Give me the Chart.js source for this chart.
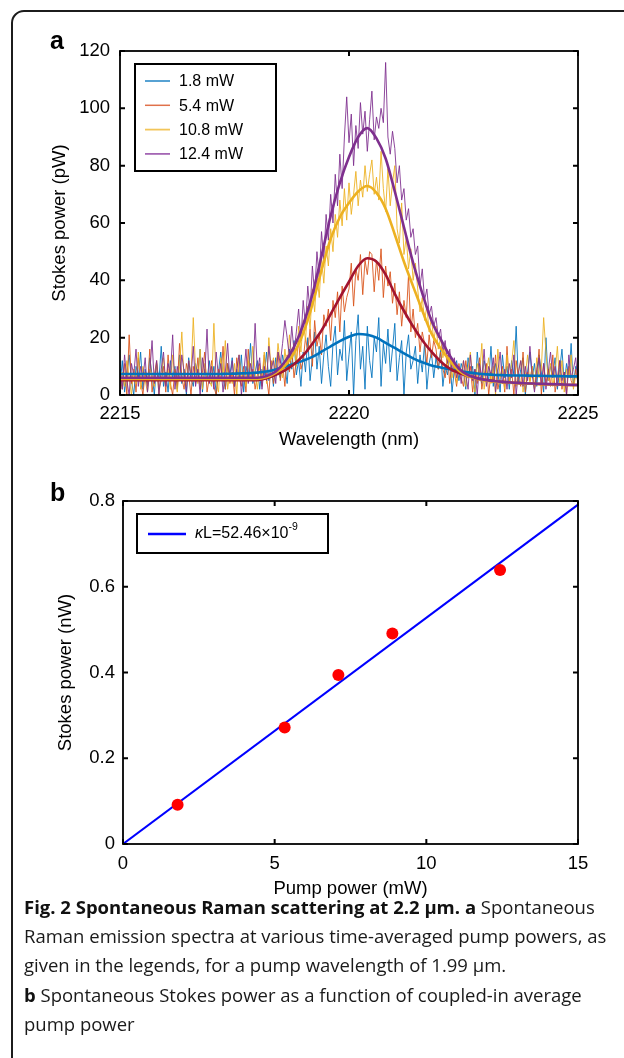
<!DOCTYPE html>
<html>
<head>
<meta charset="utf-8">
<script src="https://cdn.jsdelivr.net/npm/chart.js@4.4.1/dist/chart.umd.min.js"></script>
<style>
  html,body{margin:0;padding:0;background:#fff;}
  body{width:624px;height:1058px;overflow:hidden;position:relative;font-family:"Liberation Sans",Arial,Helvetica,sans-serif;}
  #frame{position:absolute;left:11px;top:10px;width:720px;height:1200px;border:2px solid #1c1c1c;border-radius:13px;box-sizing:border-box;}
  canvas{position:absolute;left:0;}
  #cA{top:0;}
  #cB{top:460px;}
  .plab{position:absolute;font-weight:bold;font-size:25px;line-height:1;color:#000;}
  #caption{position:absolute;left:24px;top:892px;font-family:"Open Sans",sans-serif;font-size:18.5px;line-height:29.2px;color:#1a1a1a;white-space:nowrap;}
  #caption b{font-weight:700;color:#111;}
</style>
</head>
<body>
<div id="frame"></div>
<canvas id="cA" width="624" height="460"></canvas>
<canvas id="cB" width="624" height="440"></canvas>
<div class="plab" style="left:50px;top:28px;">a</div>
<div class="plab" style="left:50px;top:480px;">b</div>
<div id="caption">
  <div><b>Fig. 2 Spontaneous Raman scattering at 2.2 μm.</b> <b>a</b> Spontaneous</div>
  <div>Raman emission spectra at various time-averaged pump powers, as</div>
  <div>given in the legends, for a pump wavelength of 1.99 μm.</div>
  <div><b>b</b> Spontaneous Stokes power as a function of coupled-in average</div>
  <div>pump power</div>
</div>
<script>
// ---------------- Panel a data ----------------
const seriesLabels = ['1.8 mW', '5.4 mW', '10.8 mW', '12.4 mW'];
const wlStart = 2215;      // raw spectra start (nm)
const wlStep = 0.05;       // raw spectra sampling (nm)
const fitStart = 2215;
const fitStep = 0.2;

const raw18 = [3,12,1,8,14,5,0,10,6,15, 2,9,4,13,7,0,11,5,17,3, 8,1,12,6,10,2,14,4,9,0, 13,6,3,11,7,16,1,9,5,12,
  4,10,0,8,15,6,2,11,7,13, 3,9,5,14,1,10,6,18,4,8, 12,2,9,7,15,5,11,3,13,8, 6,14,10,4,16,9,19,7,12,3,
  15,8,20,5,13,22,9,17,4,14, 21,10,3,18,24,7,16,12,26,5, 14,22,0,19,28,9,17,2,24,12, 6,20,15,27,3,18,11,23,8,16,
  25,5,13,19,0,15,21,9,12,17, 4,14,8,18,2,11,15,6,13,9, 16,3,10,7,14,1,9,12,5,11, 8,2,13,6,10,0,15,7,4,12,
  9,5,17,3,11,8,1,14,6,10, 2,12,7,24,4,9,13,0,8,15, 6,11,3,14,8,1,20,5,10,7, 13,2,9,16,4,11,6,18,3,10, 8];
const raw54 = [6,2,11,0,21,4,9,1,13,5, 0,8,3,16,1,7,12,2,5,10, 1,14,4,0,9,3,18,6,2,11, 7,0,10,4,13,2,8,15,1,6,
  12,3,0,9,5,17,2,11,4,8, 0,13,6,3,10,1,16,5,9,2, 7,11,3,14,6,0,12,4,9,15, 5,11,3,14,8,16,6,12,19,9,
  12,20,15,23,10,26,17,21,14,28, 24,30,19,33,27,36,22,38,29,34, 37,46,31,44,40,49,35,47,42,50, 49,36,47,40,51,34,45,38,43,32,
  39,28,36,24,33,27,42,22,30,20, 25,15,22,18,11,21,13,19,16,9, 15,9,6,14,4,12,8,3,11,6, 3,12,6,10,1,9,4,13,2,7,
  11,0,8,5,14,2,6,10,1,17, 4,9,0,12,6,3,15,1,8,5, 10,2,7,16,0,11,4,9,3,14, 1,6,12,2,8,0,10,5,3,9, 4];
const raw108 = [1,8,3,12,6,0,9,4,15,2, 10,5,1,9,7,3,11,0,8,13, 4,9,2,14,6,1,10,22,5,3, 12,7,27,9,4,16,2,11,6,5,
  3,25,5,1,13,7,19,2,8,4, 11,0,14,6,9,3,12,5,17,8, 2,10,6,15,4,20,9,13,7,18, 11,6,16,9,21,13,18,10,24,15,
  26,19,31,23,37,29,42,34,48,39, 52,45,58,50,63,55,68,59,72,61, 74,63,70,78,66,75,69,80,71,77, 82,70,76,68,85,72,64,79,66,74,
  80,58,53,67,49,55,44,51,40,46, 37,29,34,26,31,22,27,19,24,16, 20,13,17,9,14,6,11,4,10,7, 12,3,9,15,5,1,11,7,18,2,
  8,13,4,10,0,16,6,9,2,14, 5,11,19,3,8,12,1,7,14,4, 10,2,13,6,9,27,15,5,11,3, 8,17,4,12,1,9,6,14,2,7, 5];
const raw124 = [9,2,14,5,0,11,7,16,3,10, 6,13,1,8,19,4,12,0,9,15, 3,11,7,21,2,10,5,14,8,1, 12,6,17,3,9,0,13,7,23,4,
  10,2,15,6,11,1,8,18,5,12, 3,9,14,0,7,16,4,11,6,25, 8,13,2,10,5,17,9,12,4,15, 11,18,26,20,13,24,15,22,30,19,
  33,24,38,29,45,35,50,41,57,47, 63,54,70,60,77,66,84,72,90,104, 88,98,80,94,86,102,91,99,85,96, 106,89,97,93,100,95,116,90,84,92,
  86,74,80,68,72,61,65,55,58,49, 52,38,44,33,37,28,31,24,27,20, 23,15,19,11,16,8,13,6,10,4, 12,7,2,14,5,9,0,11,6,16,
  3,10,7,13,1,8,15,4,9,2, 11,6,14,0,8,12,3,10,5,17, 7,1,9,13,4,11,2,8,15,6, 10,3,12,5,8,0,14,6,9,13, 4];

const fit18 = [7.3,7.3,7.3,7.3,7.3,7.3,7.3,7.3,7.3,7.3,
  7.3,7.35,7.4,7.5,7.6,7.8,8.2,8.9,9.8,10.9,12.0,13.3,15.1,17.0,18.8,20.3,21.3,21.0,20.0,18.2,
  16.4,14.5,12.8,11.4,10.3,9.6,9.0,8.4,7.9,7.5,7.2,7.0,6.9,6.8,6.8,6.7,6.7,6.6,6.6,6.5,6.5];
const fit54 = [5.2,5.2,5.2,5.2,5.2,5.2,5.2,5.2,5.2,5.2,5.2,5.2,5.2,5.2,5.2,
  5.2,5.8,7.0,8.6,10.7,13.8,17.9,22.5,28.2,34,39.5,45,47.7,46.5,42,35.3,29.3,23.9,19.1,15.1,
  11.7,9.2,7.7,6.6,5.8,5.2,4.8,4.5,4.3,4.1,3.9,3.8,3.7,3.6,3.5,3.5];
const fit108 = [5.6,5.6,5.6,5.6,5.6,5.6,5.6,5.6,5.6,5.6,5.6,5.6,5.6,5.6,5.6,
  5.6,6.2,7.7,10.2,14.6,21.5,31.5,43.5,54.5,62,67,71,72.9,70.5,65,56,46.5,37.9,29.5,21.5,
  16.3,12.0,8.5,6.6,5.6,5.0,4.6,4.4,4.2,4.0,3.9,3.8,3.7,3.6,3.5,3.5];
const fit124 = [6.0,6.0,6.0,6.0,6.0,6.0,6.0,6.0,6.0,6.0,6.0,6.0,6.0,6.0,6.0,
  6.0,6.6,8.2,11.6,16.8,24.5,35.0,48.5,62.5,74,83,90,93.1,89.5,82.5,71,58.5,46.1,35.5,26,
  19.5,13.8,9.2,6.9,5.8,5.2,4.8,4.5,4.3,4.1,4.0,3.9,3.8,3.7,3.6,3.5];

const xTicksA = [2215, 2220, 2225];
const yTicksA = [0, 20, 40, 60, 80, 100, 120];

// ---------------- Panel b data ----------------
const pumpPower = [1.8, 5.33, 7.1, 8.88, 12.43];
const stokesPower = [0.0915, 0.2715, 0.394, 0.491, 0.639];
const fitLineX = [0, 15];
const fitLineY = [0, 0.7915];
const xTicksB = [0, 5, 10, 15];
const yTicksB = [0, 0.2, 0.4, 0.6, 0.8];

// ---------------- helpers ----------------
function toPts(start, step, vals) {
  return vals.map((v, i) => ({ x: +(start + i * step).toFixed(4), y: v }));
}
const rawColors = ['rgba(0,114,189,0.88)', 'rgba(217,83,25,0.88)', 'rgba(237,177,32,0.88)', 'rgba(126,47,142,0.88)'];
const fitColors = ['#0072BD', '#A2142F', '#EDB120', '#7E2F8E'];

const tickFont = { family: '"Liberation Sans", Arial, sans-serif', size: 18.5 };
const titleFont = { family: '"Liberation Sans", Arial, sans-serif', size: 18.5 };

// inward ticks on all four sides + box
const boxTicks = {
  id: 'boxTicks',
  afterDatasetsDraw(chart, args, opts) {
    const { ctx, chartArea: a, scales } = chart;
    const xs = scales.x, ys = scales.y;
    const L = opts.len || 5;
    ctx.save();
    ctx.strokeStyle = '#000';
    ctx.lineWidth = 2;
    ctx.beginPath();
    xs.ticks.forEach(t => {
      const p = xs.getPixelForValue(t.value);
      ctx.moveTo(p, a.bottom); ctx.lineTo(p, a.bottom - L);
      ctx.moveTo(p, a.top); ctx.lineTo(p, a.top + L);
    });
    ys.ticks.forEach(t => {
      const p = ys.getPixelForValue(t.value);
      ctx.moveTo(a.left, p); ctx.lineTo(a.left + L, p);
      ctx.moveTo(a.right, p); ctx.lineTo(a.right - L, p);
    });
    ctx.stroke();
    ctx.lineWidth = 1.8;
    ctx.strokeRect(a.left, a.top, a.right - a.left, a.bottom - a.top);
    ctx.restore();
  }
};

// boxed legend drawn inside the plot
const boxLegend = {
  id: 'boxLegend',
  afterDraw(chart, args, o) {
    if (!o || !o.items) return;
    const ctx = chart.ctx;
    ctx.save();
    ctx.fillStyle = '#fff';
    ctx.fillRect(o.x, o.y, o.w, o.h);
    ctx.strokeStyle = '#000';
    ctx.lineWidth = 2;
    ctx.strokeRect(o.x, o.y, o.w, o.h);
    o.items.forEach((it, i) => {
      const ds = chart.data.datasets[it.ds];
      const yy = o.firstY + i * o.rowH;
      ctx.strokeStyle = it.color || ds.borderColor;
      ctx.lineWidth = it.lw || 1.5;
      ctx.beginPath();
      ctx.moveTo(o.lineX0, yy); ctx.lineTo(o.lineX1, yy);
      ctx.stroke();
      ctx.fillStyle = '#000';
      ctx.textBaseline = 'middle';
      ctx.textAlign = 'left';
      if (it.parts) {
        let xx = o.textX;
        it.parts.forEach(p => {
          ctx.font = (p.italic ? 'italic ' : '') + p.size + 'px "Liberation Sans", Arial, sans-serif';
          ctx.fillText(p.t, xx, yy + (p.dy || 0));
          xx += ctx.measureText(p.t).width;
        });
      } else {
        ctx.font = o.fontSize + 'px "Liberation Sans", Arial, sans-serif';
        ctx.fillText(ds.label, o.textX, yy + 1);
      }
    });
    ctx.restore();
  }
};

function axis(min, max, ticksArr, title, isX, pad, tpad, size) {
  return {
    type: 'linear', min, max,
    afterBuildTicks: s => { s.ticks = ticksArr.map(v => ({ value: v })); },
    afterFit: s => { if (isX) s.height = size; else s.width = size; },
    grid: { display: false, drawTicks: false },
    border: { display: false },
    ticks: { font: tickFont, color: '#000', padding: pad, maxRotation: 0, autoSkip: false,
             callback: v => String(+v.toFixed(2)) },
    title: { display: true, text: title, font: titleFont, color: '#000', padding: tpad }
  };
}

// ---------------- Chart a ----------------
const rawSets = [raw18, raw54, raw108, raw124];
const fitSets = [fit18, fit54, fit108, fit124];
const datasetsA = [];
rawSets.forEach((arr, i) => datasetsA.push({
  label: seriesLabels[i], data: toPts(wlStart, wlStep, arr),
  borderColor: rawColors[i], borderWidth: 1, pointRadius: 0, tension: 0,
  borderJoinStyle: 'bevel', order: 7 - i
}));
fitSets.forEach((arr, i) => datasetsA.push({
  label: seriesLabels[i] + ' fit', data: toPts(fitStart, fitStep, arr),
  borderColor: fitColors[i], borderWidth: 2.6, pointRadius: 0,
  cubicInterpolationMode: 'monotone', order: 3 - i
}));

new Chart(document.getElementById('cA'), {
  type: 'line',
  data: { datasets: datasetsA },
  options: {
    responsive: false, animation: false, devicePixelRatio: 1,
    layout: { padding: { left: 0, right: 46, top: 51, bottom: 0 } },
    scales: {
      x: axis(2215, 2225, xTicksA, 'Wavelength (nm)', true, 8, { top: 0, bottom: 9 }, 65),
      y: axis(0, 120, yTicksA, 'Stokes power (pW)', false, 10, { top: 49, bottom: 0 }, 120)
    },
    plugins: {
      legend: { display: false }, tooltip: { enabled: false },
      boxTicks: { len: 5 },
      boxLegend: {
        x: 135, y: 64, w: 141, h: 107, lineX0: 145, lineX1: 170, textX: 179,
        firstY: 81, rowH: 24.3, fontSize: 16,
        items: [{ ds: 0, lw: 1.5 }, { ds: 1, lw: 1.5, color: '#E0714A' }, { ds: 2, lw: 1.8, color: '#F2C55A' }, { ds: 3, lw: 1.8, color: '#A466B4' }]
      }
    }
  },
  plugins: [boxTicks, boxLegend]
});

// ---------------- Chart b ----------------
new Chart(document.getElementById('cB'), {
  type: 'scatter',
  data: {
    datasets: [
      { type: 'scatter', label: 'data', data: pumpPower.map((x, i) => ({ x, y: stokesPower[i] })),
        backgroundColor: '#ff0000', borderWidth: 0, pointRadius: 6, order: 0 },
      { type: 'line', label: 'κL=52.46×10⁻⁹', data: fitLineX.map((x, i) => ({ x, y: fitLineY[i] })),
        borderColor: '#0000ff', borderWidth: 2, pointRadius: 0, order: 1 }
    ]
  },
  options: {
    responsive: false, animation: false, devicePixelRatio: 1,
    layout: { padding: { left: 0, right: 46, top: 41, bottom: 0 } },
    scales: {
      x: axis(0, 15, xTicksB, 'Pump power (mW)', true, 9, { top: 0, bottom: 0 }, 56),
      y: axis(0, 0.8, yTicksB, 'Stokes power (nW)', false, 8, { top: 55, bottom: 0 }, 123)
    },
    plugins: {
      legend: { display: false }, tooltip: { enabled: false },
      boxTicks: { len: 5 },
      boxLegend: {
        x: 137, y: 54, w: 191, h: 39, lineX0: 148, lineX1: 186, textX: 195,
        firstY: 74, rowH: 0, fontSize: 16,
        items: [{ ds: 1, lw: 2.4, parts: [
          { t: 'κ', size: 16, italic: true }, { t: 'L=52.46×10', size: 16 }, { t: '-9', size: 10.5, dy: -7 }
        ] }]
      }
    }
  },
  plugins: [boxTicks, boxLegend]
});
</script>
</body>
</html>
